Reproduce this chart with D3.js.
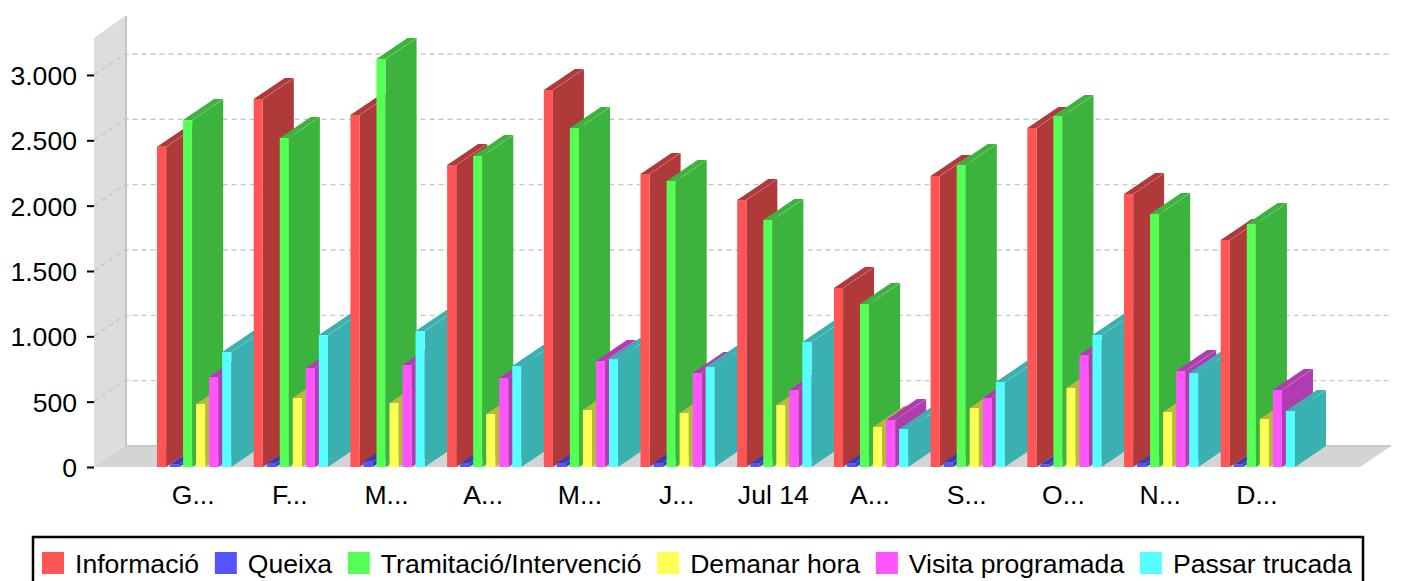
<!DOCTYPE html>
<html lang="en">
<head>
<meta charset="utf-8">
<title>Trucades per mes</title>
<script src="https://d3js.org/d3.v7.min.js"></script>
<style>
body { margin: 0; background: #fff; }
text { font-family: "Liberation Sans", Arial, sans-serif; fill: #000; }
</style>
</head>
<body>
<div id="main"></div>
<script type="text/javascript">
const months = ['G...', 'F...', 'M...', 'A...', 'M... ', 'J...', 'Jul 14', 'A... ', 'S...', 'O...', 'N...', 'D...'];
const seriesNames = ['Informació', 'Queixa', 'Tramitació/Intervenció', 'Demanar hora', 'Visita programada', 'Passar trucada'];
const informacio = [2451, 2816, 2694, 2311, 2885, 2242, 2043, 1370, 2227, 2594, 2089, 1737];
const queixa = [20, 25, 40, 25, 30, 30, 25, 30, 35, 20, 25, 20];
const tramitacio = [2655, 2518, 3122, 2380, 2594, 2189, 1890, 1247, 2311, 2686, 1936, 1860];
const demanar = [482, 528, 490, 405, 436, 413, 474, 306, 451, 605, 421, 367];
const visita = [689, 758, 781, 681, 811, 719, 589, 360, 528, 857, 735, 589];
const passar = [880, 1010, 1041, 773, 826, 765, 957, 291, 650, 1010, 719, 428];
const seriesValues = [informacio, queixa, tramitacio, demanar, visita, passar];
const frontColors = ['#ff5555', '#5555ff', '#55ff55', '#ffff55', '#ff55ff', '#55ffff'];
const sideColors = ['#b03a3a', '#3a3ab3', '#3cb33c', '#b8b83c', '#b03cb0', '#3ab0b0'];
const yTicks = [0, 500, 1000, 1500, 2000, 2500, 3000];

const width = 1401;
const height = 581;
const depthX = 31;
const depthY = 21;
const plotLeft = 94;
const plotRight = 1360;
const plotBottom = 467;
const plotTop = 38;
const fontSize = 26.6;

const svg = d3.select('#main').append('svg')
    .attr('width', width)
    .attr('height', height)
    .style('display', 'block');

const yScale = d3.scaleLinear().domain([0, 3283]).range([plotBottom, plotTop]);
const x0 = d3.scaleBand().domain(months).range([157, 1295]).paddingInner(0.232).paddingOuter(0);
const x1 = d3.scaleBand().domain(seriesNames).range([0, x0.bandwidth()]).paddingInner(0.3).paddingOuter(0);

const poly = (pts) => pts.map(p => p.join(',')).join(' ');

// walls
svg.append('polygon')
    .attr('points', poly([[plotLeft, plotBottom], [plotLeft + depthX, plotBottom - depthY], [plotLeft + depthX, plotTop - depthY - 1], [plotLeft, plotTop]]))
    .attr('fill', '#dddddd');
svg.append('rect')
    .attr('x', plotLeft + depthX)
    .attr('y', plotTop - depthY - 1)
    .attr('width', 2)
    .attr('height', plotBottom - plotTop + 1)
    .attr('fill', '#c4c4c4');
svg.append('polygon')
    .attr('points', poly([[plotLeft, plotBottom], [plotLeft + depthX, plotBottom - depthY], [plotRight + depthX, plotBottom - depthY], [plotRight, plotBottom]]))
    .attr('fill', '#d4d4d4');
svg.append('line')
    .attr('x1', plotLeft + depthX).attr('x2', plotRight + depthX)
    .attr('y1', plotBottom - depthY).attr('y2', plotBottom - depthY)
    .attr('stroke', '#c8c8d0')
    .attr('stroke-width', 2);

// grid on both the side wall and the back wall
yTicks.filter(d => d > 0).forEach(d => {
    svg.append('path')
        .attr('d', `M${plotLeft},${yScale(d)}L${plotLeft + depthX},${yScale(d) - depthY}H${plotRight + depthX}`)
        .attr('fill', 'none')
        .attr('stroke', '#c8c8c8')
        .attr('stroke-width', 1.4)
        .attr('stroke-dasharray', '5,4');
});

// bars, left to right so each one covers the side of the one before it
months.forEach((month, m) => {
    seriesNames.forEach((name, s) => {
        const value = seriesValues[s][m];
        const x = x0(month) + x1(name);
        const w = x1.bandwidth();
        const y = yScale(value);
        const g = svg.append('g');
        g.append('polygon')
            .attr('points', poly([[x + w, plotBottom], [x + w + depthX, plotBottom - depthY], [x + w + depthX, y - depthY], [x + w, y]]))
            .attr('fill', sideColors[s]);
        g.append('polygon')
            .attr('points', poly([[x, y], [x + depthX, y - depthY], [x + w + depthX, y - depthY], [x + w, y]]))
            .attr('fill', sideColors[s]);
        g.append('line')
            .attr('x1', x + w).attr('y1', y)
            .attr('x2', x + w + depthX).attr('y2', y - depthY)
            .attr('stroke', '#fff')
            .attr('stroke-opacity', 0.2)
            .attr('stroke-width', 0.7);
        g.append('rect')
            .attr('x', x)
            .attr('y', y)
            .attr('width', w)
            .attr('height', plotBottom - y)
            .attr('fill', frontColors[s]);
    });
});

// axes
const yAxis = d3.axisLeft(yScale)
    .tickValues(yTicks)
    .tickSize(7)
    .tickPadding(10)
    .tickFormat(d => d3.format(',')(d).replace(',', '.'));
const yG = svg.append('g').attr('transform', `translate(${plotLeft},0)`).call(yAxis);
yG.select('.domain').remove();
yG.selectAll('line').attr('stroke', '#000').attr('stroke-width', 2);
yG.selectAll('text').attr('font-size', fontSize).attr('font-family', '"Liberation Sans", Arial, sans-serif').attr('dy', '0.36em');

const xAxis = d3.axisBottom(x0).tickSize(0).tickPadding(18);
const xG = svg.append('g').attr('transform', `translate(-1,${plotBottom})`).call(xAxis);
xG.select('.domain').remove();
xG.selectAll('text').attr('font-size', fontSize).attr('font-family', '"Liberation Sans", Arial, sans-serif');

// legend
svg.append('rect')
    .attr('x', 33).attr('y', 537)
    .attr('width', 1330).attr('height', 60)
    .attr('fill', '#fff')
    .attr('stroke', '#000')
    .attr('stroke-width', 2.5);
let legendX = 42;
seriesNames.forEach((name, s) => {
    svg.append('rect')
        .attr('x', legendX).attr('y', 552)
        .attr('width', 22).attr('height', 22)
        .attr('fill', frontColors[s]);
    const label = svg.append('text')
        .attr('x', legendX + 33)
        .attr('y', 573)
        .attr('font-size', fontSize)
        .text(name);
    legendX += 33 + label.node().getComputedTextLength() + 15.7;
});
</script>
</body>
</html>
